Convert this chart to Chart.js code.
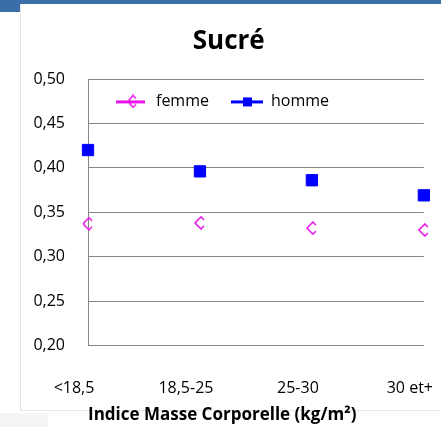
<!DOCTYPE html>
<html>
<head>
    <title>Sucré</title>
    <script src="https://cdn.jsdelivr.net/npm/chart.js@4/dist/chart.umd.min.js"></script>
    <style>
        html, body { margin: 0; padding: 0; background: #ffffff; overflow: hidden; width: 441px; height: 427px; }
        #bandTop { position: absolute; left: 0; top: 0; width: 441px; height: 4px; background: #3a6ea8; }
        #bandLeft { position: absolute; left: 0; top: 0; width: 20px; height: 12px; background: #3a6ea8; }
        #card { position: absolute; left: 20px; top: 4px; width: 440px; height: 406px; border-left: 1px solid #e2e2e2; border-bottom: 1px solid #e8e8e8; }
        #strip { position: absolute; left: 0; top: 413px; width: 48px; height: 14px; background: #f5f5f5; }
        #myChart { position: absolute; left: 0; top: 0; }
    </style>
</head>
<body>
    <div id="bandTop"></div>
    <div id="bandLeft"></div>
    <div id="card"></div>
    <div id="strip"></div>
    <canvas id="myChart" width="480" height="427"></canvas>

    <script>
        // data
        var categories = ['<18,5', '18,5-25', '25-30', '30 et+'];
        var femme = [0.337, 0.338, 0.332, 0.330];
        var homme = [0.420, 0.396, 0.386, 0.369];
        var seriesNames = ['femme', 'homme'];

        var pink = '#e815e8';
        var blue = '#0000ff';

        // open "<" marker used for femme
        function femmeMarker() {
            var c = document.createElement('canvas');
            c.width = 14; c.height = 14;
            var g = c.getContext('2d');
            g.strokeStyle = pink;
            g.lineWidth = 1.6;
            g.beginPath();
            g.moveTo(11, 4); g.lineTo(8, 1); g.lineTo(2, 7); g.lineTo(8, 13); g.lineTo(11, 10);
            g.stroke();
            return c;
        }

        // legend swatches: line + marker
        function legendSwatch(kind) {
            var c = document.createElement('canvas');
            c.width = 32; c.height = 14;
            var g = c.getContext('2d');
            if (kind === 'femme') {
                g.fillStyle = pink;
                g.fillRect(0, 6, 29, 3);
                g.strokeStyle = pink;
                g.lineWidth = 1.5;
                g.beginPath();
                g.moveTo(20, 4); g.lineTo(17, 1); g.lineTo(12, 7); g.lineTo(17, 13); g.lineTo(20, 10);
                g.stroke();
            } else {
                g.fillStyle = blue;
                g.fillRect(0, 6, 32, 3);
                g.fillRect(12, 3, 9, 9);
            }
            return c;
        }

        // move the legend inside the plot area, like the original
        var legendInside = {
            id: 'legendInside',
            beforeLayout: function (chart) {
                var lg = chart.legend;
                if (lg && !lg._wrapped) {
                    var f = lg.fit;
                    lg.fit = function () { f.call(this); this.height = 0; };
                    lg._wrapped = true;
                }
            },
            afterLayout: function (chart) {
                var lg = chart.legend;
                var pad = lg.options.labels.padding;
                lg.left = 116 - pad;
                lg.right = 470;
                lg.top = 103 - 9.6 - pad;
                lg.bottom = lg.top + 60;
            }
        };

        var ctx = document.getElementById('myChart').getContext('2d');

        var myChart = new Chart(ctx, {
            type: 'line',
            data: {
                labels: categories,
                datasets: [{
                    label: seriesNames[0],
                    data: femme,
                    showLine: false,
                    pointStyle: femmeMarker(),
                    borderColor: pink,
                    backgroundColor: pink
                }, {
                    label: seriesNames[1],
                    data: homme,
                    showLine: false,
                    pointStyle: 'rect',
                    pointRadius: 8,
                    pointBorderWidth: 1,
                    borderColor: blue,
                    backgroundColor: blue
                }]
            },
            plugins: [legendInside],
            options: {
                responsive: false,
                animation: false,
                layout: { padding: { left: 20, right: 42.5, top: 0, bottom: 2 } },
                font: { family: "'Open Sans', sans-serif" },
                plugins: {
                    title: {
                        display: true,
                        text: 'Sucré',
                        color: '#000000',
                        font: { family: "'Open Sans', sans-serif", size: 26, weight: 'bold' },
                        padding: { top: 26, bottom: 21.8 }
                    },
                    legend: {
                        display: true,
                        align: 'start',
                        labels: {
                            usePointStyle: true,
                            pointStyleWidth: 32,
                            padding: 22,
                            color: '#000000',
                            font: { family: "'Open Sans', sans-serif", size: 16 },
                            generateLabels: function (chart) {
                                return seriesNames.map(function (n, i) {
                                    return {
                                        text: n,
                                        pointStyle: legendSwatch(n),
                                        datasetIndex: i,
                                        fontColor: '#000000',
                                        lineWidth: 0,
                                        hidden: false
                                    };
                                });
                            }
                        }
                    },
                    tooltip: { enabled: false }
                },
                scales: {
                    x: {
                        offset: false,
                        grid: { display: false, drawTicks: false },
                        border: { display: true, color: '#868686', width: 1 },
                        ticks: {
                            padding: 33,
                            labelOffset: -14,
                            maxRotation: 0,
                            color: '#000000',
                            font: { family: "'Open Sans', sans-serif", size: 16 }
                        },
                        title: {
                            display: true,
                            text: 'Indice Masse Corporelle (kg/m²)',
                            align: 'start',
                            color: '#000000',
                            font: { family: "'Open Sans', sans-serif", size: 17, weight: 'bold' },
                            padding: { top: -26, bottom: 0 }
                        }
                    },
                    y: {
                        min: 0.2,
                        max: 0.5,
                        afterFit: function (s) { s.width = 68; },
                        grid: { color: '#868686', drawTicks: false, lineWidth: 1 },
                        border: { display: true, color: '#868686', width: 1 },
                        ticks: {
                            stepSize: 0.05,
                            padding: 23,
                            color: '#000000',
                            font: { family: "'Open Sans', sans-serif", size: 16 },
                            callback: function (v) { return v.toFixed(2).replace('.', ','); }
                        }
                    }
                }
            }
        });
    </script>
</body>
</html>
